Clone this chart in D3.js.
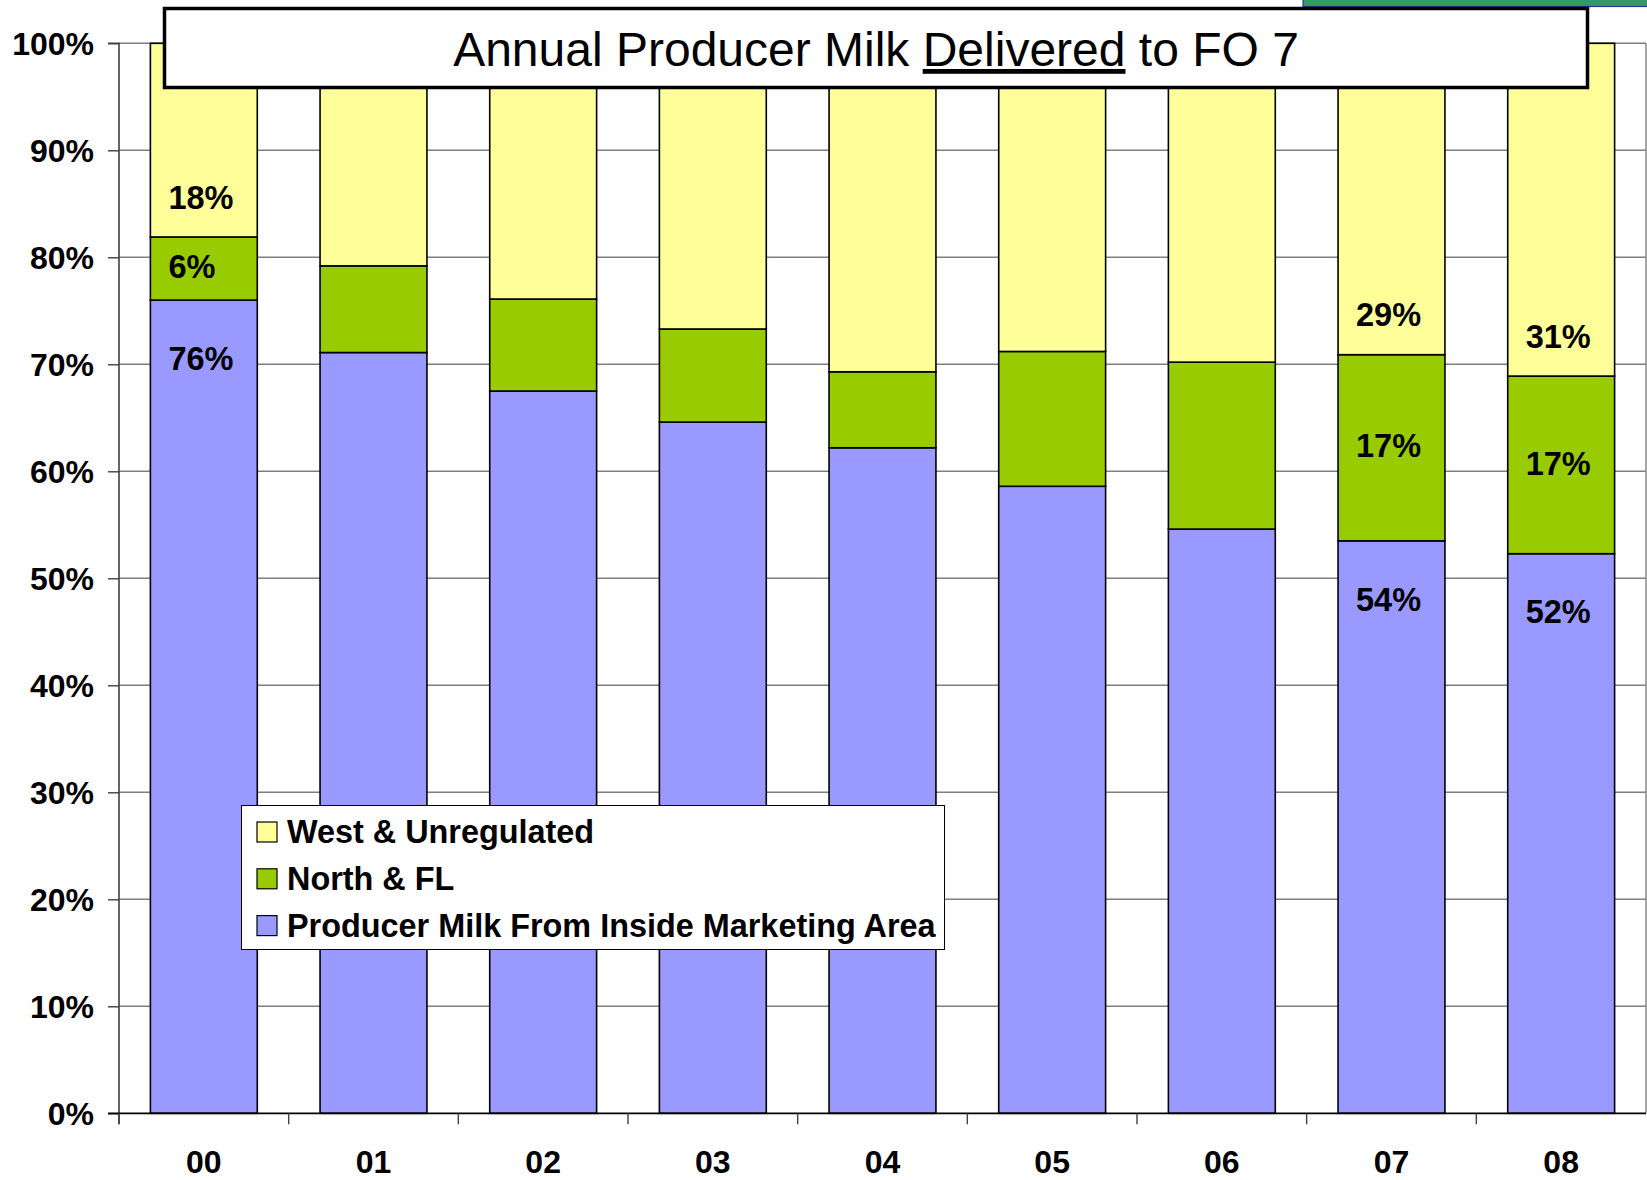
<!DOCTYPE html>
<html>
<head>
<meta charset="utf-8">
<script src="https://cdn.jsdelivr.net/npm/d3@7"></script>
<style>
  html, body { margin: 0; padding: 0; background: #fff; }
  svg { display: block; font-family: Arial, "Liberation Sans", sans-serif; }
</style>
</head>
<body>
<div id="root"></div>
<script>
// values, share of producer milk (%)
var years = ["00", "01", "02", "03", "04", "05", "06", "07", "08"];
var inside = [76.0, 71.1, 67.5, 64.6, 62.2, 58.6, 54.6, 53.5, 52.3];
var north = [5.9, 8.1, 8.6, 8.7, 7.1, 12.6, 15.6, 17.4, 16.6];
var west = [18.1, 20.8, 23.9, 26.7, 30.7, 28.8, 29.8, 29.1, 31.1];
var labelledYears = ["00", "07", "08"];
var yTicks = [0, 10, 20, 30, 40, 50, 60, 70, 80, 90, 100];

var seriesKeys = ["inside", "north", "west"];
var seriesNames = {
  west: "West & Unregulated",
  north: "North & FL",
  inside: "Producer Milk From Inside Marketing Area"
};
var colors = { inside: "#9999FF", north: "#99CC00", west: "#FFFF99" };

// build rows for the stack
var rows = [];
for (let i = 0; i < years.length; i++) {
  rows.push({ year: years[i], inside: inside[i], north: north[i], west: west[i] });
}

var svgWidth = 1647;
var svgHeight = 1180;
var plot = { left: 119, right: 1646, top: 43.3, bottom: 1113.3 };

var svg = d3.select("#root").append("svg")
  .attr("width", svgWidth)
  .attr("height", svgHeight);

var x = d3.scaleBand()
  .domain(years)
  .range([plot.left, plot.right])
  .paddingInner(0.37)
  .paddingOuter(0.185);

var y = d3.scaleLinear()
  .domain([0, 100])
  .range([plot.bottom, plot.top]);

// slide decoration at the top right
svg.append("rect")
  .attr("x", 1303).attr("y", -2)
  .attr("width", 350).attr("height", 8.5)
  .attr("fill", "#339966")
  .attr("stroke", "#333399")
  .attr("stroke-width", 1.2);

// gridlines
svg.append("g")
  .selectAll("line")
  .data(yTicks.filter(d => d > 0))
  .enter().append("line")
  .attr("x1", plot.left).attr("x2", plot.right)
  .attr("y1", d => y(d)).attr("y2", d => y(d))
  .attr("stroke", "#7f7f7f")
  .attr("stroke-width", 1.4);

svg.append("line")
  .attr("x1", plot.right).attr("x2", plot.right)
  .attr("y1", plot.top).attr("y2", plot.bottom)
  .attr("stroke", "#7f7f7f")
  .attr("stroke-width", 1.4);

// stacked bars
var stacked = d3.stack().keys(seriesKeys)(rows);

svg.append("g")
  .selectAll("g")
  .data(stacked)
  .enter().append("g")
  .attr("fill", d => colors[d.key])
  .selectAll("rect")
  .data(d => d)
  .enter().append("rect")
  .attr("x", d => x(d.data.year))
  .attr("y", d => y(d[1]))
  .attr("width", x.bandwidth())
  .attr("height", d => y(d[0]) - y(d[1]))
  .attr("stroke", "#000")
  .attr("stroke-width", 1.6);

// y axis
var yAxis = d3.axisLeft(y)
  .tickValues(yTicks)
  .tickFormat(d => d + "%")
  .tickSize(11)
  .tickPadding(14);

var gy = svg.append("g")
  .attr("transform", `translate(${plot.left},0)`)
  .call(yAxis);
gy.select(".domain").attr("stroke", "#404040").attr("stroke-width", 1.6)
  .attr("d", `M-11,${plot.top}H0V${plot.bottom + 11}`);
gy.selectAll(".tick line").attr("stroke", "#404040").attr("stroke-width", 1.4);
gy.selectAll("text")
  .attr("font-family", "Arial, 'Liberation Sans', sans-serif")
  .attr("font-size", "32px")
  .attr("font-weight", "bold")
  .attr("fill", "#000")
  .attr("dy", "0.36em");

// x axis, labels under each bar, ticks at category boundaries
var gx = svg.append("g")
  .attr("transform", `translate(0,${plot.bottom})`)
  .call(d3.axisBottom(x).tickSize(0));
gx.select(".domain").attr("stroke", "#000").attr("stroke-width", 1.8)
  .attr("d", `M${plot.left - 11},0H${plot.right}`);
gx.selectAll("text")
  .attr("font-family", "Arial, 'Liberation Sans', sans-serif")
  .attr("font-size", "32px")
  .attr("font-weight", "bold")
  .attr("fill", "#000")
  .attr("dy", null)
  .attr("y", 60);

gx.selectAll(".bound")
  .data(d3.range(years.length))
  .enter().append("line")
  .attr("class", "bound")
  .attr("x1", i => plot.left + i * x.step())
  .attr("x2", i => plot.left + i * x.step())
  .attr("y1", 0).attr("y2", 11)
  .attr("stroke", "#404040")
  .attr("stroke-width", 1.4);

// value labels on three of the bars, left aligned inside the bar
var labels = [];
stacked.forEach(function (s) {
  s.forEach(function (d) {
    if (labelledYears.indexOf(d.data.year) < 0) return;
    var ly;
    if (s.key == "inside") ly = y(d[1]) + 58;
    else if (s.key == "north") ly = (y(d[0]) + y(d[1])) / 2 - 2;
    else ly = y(d[0]) - 40;
    labels.push({ x: x(d.data.year) + 18, y: ly, text: Math.round(d[1] - d[0]) + "%" });
  });
});

svg.append("g")
  .selectAll("text")
  .data(labels)
  .enter().append("text")
  .attr("x", d => d.x)
  .attr("y", d => d.y)
  .attr("dy", "0.36em")
  .attr("font-size", "32.5px")
  .attr("font-weight", "bold")
  .text(d => d.text);

// title box
svg.append("rect")
  .attr("x", 164.5).attr("y", 8.5)
  .attr("width", 1423).attr("height", 79)
  .attr("fill", "#fff")
  .attr("stroke", "#000")
  .attr("stroke-width", 3.5);

var title = svg.append("text")
  .attr("x", 876)
  .attr("y", 66)
  .attr("text-anchor", "middle")
  .attr("font-size", "48px")
  .attr("fill", "#000");
title.append("tspan").text("Annual Producer Milk ");
title.append("tspan").attr("text-decoration", "underline").text("Delivered");
title.append("tspan").text(" to FO 7");

// legend
var legend = svg.append("g").attr("transform", "translate(241,805)");
legend.append("rect")
  .attr("x", 0.5).attr("y", 0.5)
  .attr("width", 703).attr("height", 144)
  .attr("fill", "#fff")
  .attr("stroke", "#000")
  .attr("stroke-width", 1);

var legendKeys = ["west", "north", "inside"];
var items = legend.selectAll(".item")
  .data(legendKeys)
  .enter().append("g")
  .attr("class", "item")
  .attr("transform", (d, i) => `translate(0,${38 + i * 46.8})`);

items.append("rect")
  .attr("x", 16).attr("y", -21)
  .attr("width", 20).attr("height", 20)
  .attr("fill", d => colors[d])
  .attr("stroke", "#000")
  .attr("stroke-width", 1.2);

items.append("text")
  .attr("x", 46)
  .attr("y", 0)
  .attr("font-size", "32.4px")
  .attr("font-weight", "bold")
  .text(d => seriesNames[d]);
</script>
</body>
</html>
